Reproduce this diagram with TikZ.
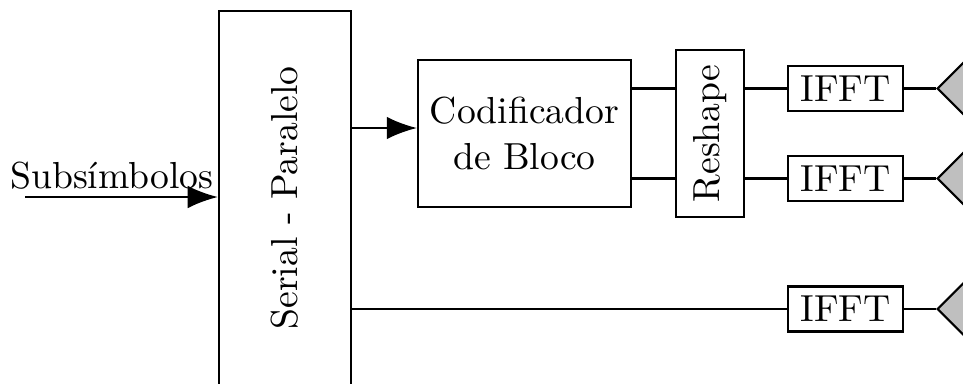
\documentclass[tikz,border=0pt]{standalone}
\usetikzlibrary{arrows.meta,shapes.geometric}
\begin{document}
\begin{tikzpicture}[x=0.2658pt,y=-0.2658pt,
  blk/.style={draw,line width=0.6pt,inner sep=0pt,align=center},
  tri/.style={draw,line width=0.6pt,fill=black!25,isosceles triangle,isosceles triangle apex angle=90,shape border rotate=180,minimum height=40pt,inner sep=0pt,anchor=apex},
  conn/.style={line width=0.6pt},
  arr/.style={line width=0.6pt,-{Latex[length=8pt,width=6pt]}}]
\useasboundingbox (0,0) rectangle (963,383);
\clip (0,0) rectangle (963,383);
\node[blk,minimum width=35.1pt,minimum height=99.6pt] (sp) at (285,198) {\rotatebox{90}{Serial - Paralelo}};
\node[blk,minimum width=56.6pt,minimum height=39.1pt] (cod) at (524.5,133.5) {Codificador\\de Bloco};
\node[blk,minimum width=18.1pt,minimum height=44.4pt] (res) at (710,133.5) {\rotatebox{90}{Reshape}};
\node[blk,minimum width=30.6pt,minimum height=12pt] (f1) at (845.5,88.5) {IFFT};
\node[blk,minimum width=30.6pt,minimum height=12pt] (f2) at (845.5,178.5) {IFFT};
\node[blk,minimum width=30.6pt,minimum height=12pt] (f3) at (845.5,309) {IFFT};
\node[tri] (t1) at (936,88.5) {};
\node[tri] (t2) at (936,178.5) {};
\node[tri] (t3) at (936,309) {};
\coordinate (in) at (25,197);
\node[anchor=base] (lbl) at (112,188) {Subsímbolos};
\draw[arr] (in) -- (sp.west |- in);
\draw[arr] (sp.east |- 0,128) -- (cod.west |- 0,128);
\draw[conn] (cod.east |- f1) -- (res.west |- f1);
\draw[conn] (cod.east |- f2) -- (res.west |- f2);
\draw[conn] (res.east |- f1) -- (f1.west);
\draw[conn] (res.east |- f2) -- (f2.west);
\draw[conn] (sp.east |- f3) -- (f3.west);
\draw[conn] (f1.east) -- (t1.apex);
\draw[conn] (f2.east) -- (t2.apex);
\draw[conn] (f3.east) -- (t3.apex);
\end{tikzpicture}
\end{document}
